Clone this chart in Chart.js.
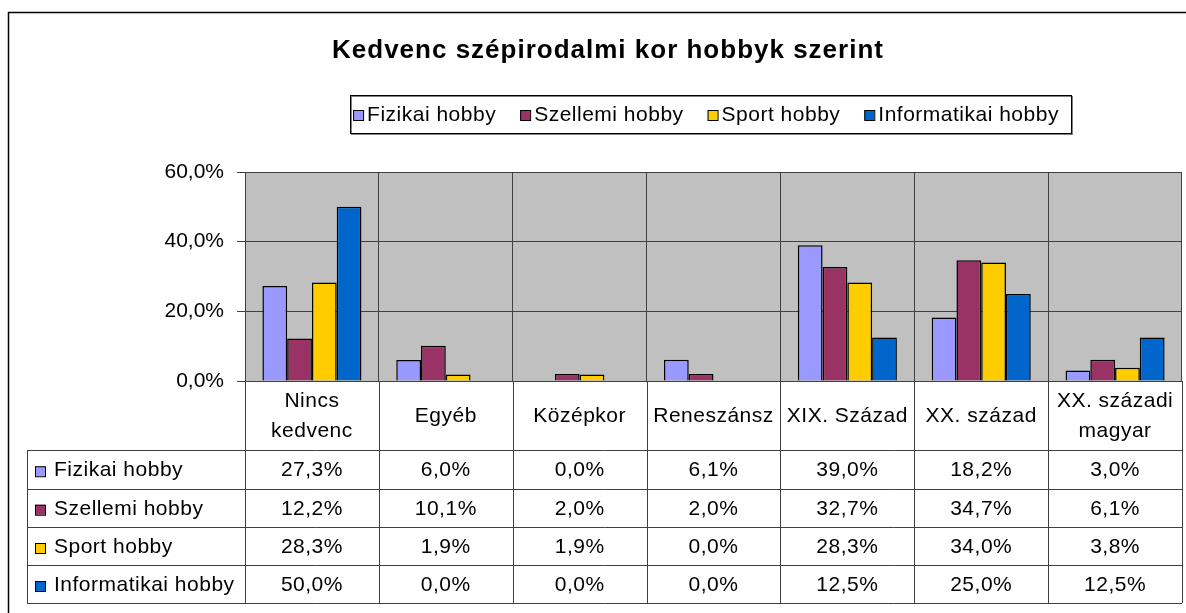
<!DOCTYPE html>
<html>
<head>
    <meta charset="UTF-8">
    <title>Kedvenc szépirodalmi kor hobbyk szerint</title>
    <script src="https://cdn.jsdelivr.net/npm/chart.js"></script>
    <style>
       body { margin: 0; background: #fff; }
       .chart-container { width: 1186px; height: 613px; position: relative; }
   </style>
</head>
<body>
   <div class="chart-container">
       <canvas id="korChart"></canvas>
   </div>

    <script>
    const title = 'Kedvenc szépirodalmi kor hobbyk szerint';
    const categories = [['Nincs', 'kedvenc'], ['Egyéb'], ['Középkor'], ['Reneszánsz'], ['XIX. Század'], ['XX. század'], ['XX. századi', 'magyar']];
    const seriesNames = ['Fizikai hobby', 'Szellemi hobby', 'Sport hobby', 'Informatikai hobby'];
    const fizikai = [27.3, 6.0, 0.0, 6.1, 39.0, 18.2, 3.0];
    const szellemi = [12.2, 10.1, 2.0, 2.0, 32.7, 34.7, 6.1];
    const sport = [28.3, 1.9, 1.9, 0.0, 28.3, 34.0, 3.8];
    const informatikai = [50.0, 0.0, 0.0, 0.0, 12.5, 25.0, 12.5];
    const yTicks = [0, 20, 40, 60];

    const colors = ['#9999ff', '#993366', '#ffcc00', '#0066cc'];
    const FONT = '"Liberation Sans", Arial, sans-serif';

    function fmt(v) {
        return v.toFixed(1).replace('.', ',') + '%';
    }

    function swatch(ctx, x, y, color) {
        ctx.fillStyle = color;
        ctx.fillRect(x, y, 10, 10);
        ctx.strokeStyle = '#000';
        ctx.lineWidth = 1;
        ctx.strokeRect(x + 0.5, y + 0.5, 10, 10);
    }

    // background, title, legend and the data table
    const decor = {
        id: 'decor',
        beforeDraw(chart) {
            const ctx = chart.ctx;
            const a = chart.chartArea;
            ctx.save();
            ctx.fillStyle = '#fff';
            ctx.fillRect(0, 0, chart.width, chart.height);
            ctx.fillStyle = '#c0c0c0';
            ctx.fillRect(a.left, a.top, a.right - a.left, a.bottom - a.top);
            ctx.restore();
        },
        afterDraw(chart) {
            const ctx = chart.ctx;
            const a = chart.chartArea;
            const x = chart.scales.x;
            const data = chart.data.datasets;
            ctx.save();

            // outer frame
            ctx.strokeStyle = '#000';
            ctx.lineWidth = 1.5;
            ctx.beginPath();
            ctx.moveTo(8.5, chart.height);
            ctx.lineTo(8.5, 12.5);
            ctx.lineTo(chart.width, 12.5);
            ctx.stroke();

            // title
            ctx.fillStyle = '#000';
            ctx.font = 'bold 26px ' + FONT;
            ctx.letterSpacing = '1px';
            ctx.textAlign = 'center';
            ctx.textBaseline = 'middle';
            ctx.fillText(title, 608, 51);

            // legend
            ctx.font = '21px ' + FONT;
            ctx.letterSpacing = '0.5px';
            ctx.textAlign = 'left';
            const widths = seriesNames.map(n => ctx.measureText(n).width);
            const gap = 24;
            const total = widths.reduce((s, w) => s + w + 14, 0) + gap * (seriesNames.length - 1);
            let lx = 706 - total / 2;
            ctx.strokeStyle = '#808080';
            ctx.lineWidth = 1;
            ctx.strokeRect(351.5, 96.5, 721, 38);
            ctx.strokeStyle = '#000';
            ctx.strokeRect(350.5, 95.5, 721, 38);
            seriesNames.forEach((n, i) => {
                swatch(ctx, lx, 110, colors[i]);
                ctx.fillStyle = '#000';
                ctx.fillText(n, lx + 14, 115);
                lx += widths[i] + 14 + gap;
            });

            // data table
            const half = (x.getPixelForValue(1) - x.getPixelForValue(0)) / 2;
            const rows = [450, 488.5, 527, 565, 603];
            ctx.strokeStyle = '#404040';
            ctx.lineWidth = 1;
            ctx.beginPath();
            rows.forEach(y => {
                ctx.moveTo(27, Math.round(y) + 0.5);
                ctx.lineTo(a.right, Math.round(y) + 0.5);
            });
            ctx.moveTo(27.5, rows[0]);
            ctx.lineTo(27.5, rows[4]);
            for (let i = 0; i <= categories.length; i++) {
                const px = Math.round(x.getPixelForValue(i) - half) + 0.5;
                ctx.moveTo(px, a.bottom);
                ctx.lineTo(px, rows[4]);
            }
            ctx.stroke();

            ctx.textAlign = 'center';
            ctx.fillStyle = '#000';
            categories.forEach((c, i) => {
                const cx = x.getPixelForValue(i);
                const mid = (a.bottom + rows[0]) / 2 + 1;
                c.forEach((line, j) => {
                    ctx.fillText(line, cx, mid + (j - (c.length - 1) / 2) * 30);
                });
            });
            data.forEach((ds, r) => {
                const cy = (rows[r] + rows[r + 1]) / 2 + 1;
                ctx.textAlign = 'left';
                swatch(ctx, 35, cy - 4, colors[r]);
                ctx.fillStyle = '#000';
                ctx.fillText(ds.label, 54, cy);
                ctx.textAlign = 'center';
                ds.data.forEach((v, i) => {
                    ctx.fillText(fmt(v), x.getPixelForValue(i), cy);
                });
            });
            ctx.letterSpacing = '0px';
            ctx.restore();
        }
    };

    new Chart('korChart', {
        type: 'bar',
        data: {
            labels: categories,
            datasets: [
                { label: seriesNames[0], data: fizikai, backgroundColor: colors[0] },
                { label: seriesNames[1], data: szellemi, backgroundColor: colors[1] },
                { label: seriesNames[2], data: sport, backgroundColor: colors[2] },
                { label: seriesNames[3], data: informatikai, backgroundColor: colors[3] }
            ]
        },
        options: {
            responsive: true,
            maintainAspectRatio: false,
            animation: false,
            layout: { padding: { top: 172, right: 4, left: 0, bottom: 0 } },
            datasets: {
                bar: {
                    borderColor: '#000',
                    borderWidth: 1.5,
                    barPercentage: 1.0,
                    categoryPercentage: 0.74
                }
            },
            plugins: {
                legend: { display: false },
                title: { display: false },
                tooltip: { enabled: false }
            },
            scales: {
                x: {
                    ticks: { display: false },
                    grid: { color: '#404040', drawTicks: false, offset: true },
                    border: { color: '#404040' },
                    afterFit(scale) { scale.height = 232; }
                },
                y: {
                    min: 0,
                    max: 60,
                    afterBuildTicks(scale) { scale.ticks = yTicks.map(v => ({ value: v })); },
                    ticks: {
                        color: '#000',
                        padding: 13,
                        font: { family: FONT, size: 21 },
                        callback: v => fmt(v)
                    },
                    grid: { color: '#404040', tickLength: 8 },
                    border: { color: '#404040' },
                    afterFit(scale) { scale.width = 245; }
                }
            }
        },
        plugins: [decor]
    });
    </script>
</body>
</html>
